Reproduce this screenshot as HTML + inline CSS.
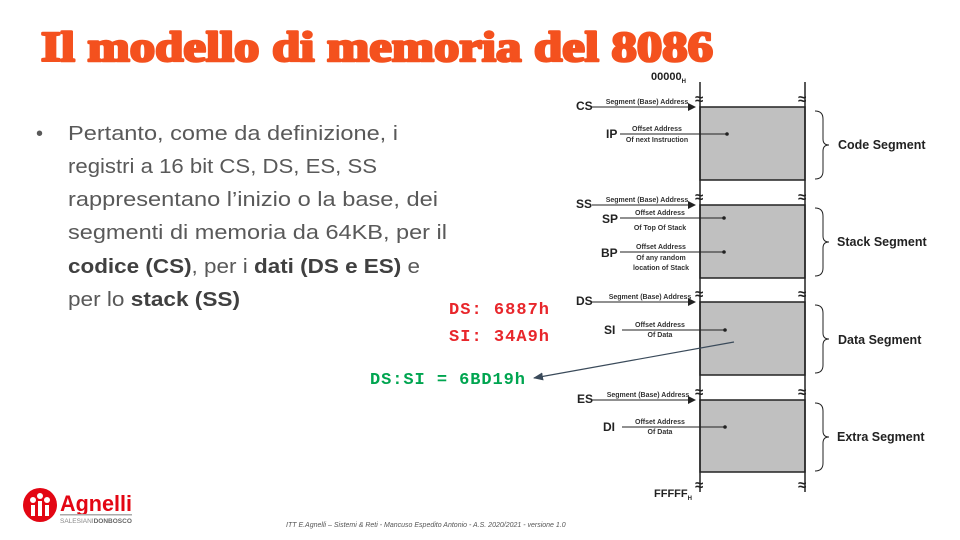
<!DOCTYPE html>
<html><head><meta charset="utf-8"><style>
body{margin:0;background:#fff}
svg{display:block}
.b{font-family:"Liberation Sans",sans-serif;font-weight:bold}
.s{font-family:"Liberation Sans",sans-serif;font-weight:bold;font-size:7px;fill:#333}
.t{font-family:"Liberation Sans",sans-serif;font-size:20px;fill:#595959}
.m{font-family:"Liberation Mono",monospace;font-weight:bold;font-size:17px}
</style></head><body>
<svg width="960" height="540" viewBox="0 0 960 540" xmlns="http://www.w3.org/2000/svg">
<defs><marker id="ah" markerWidth="8" markerHeight="8" refX="7" refY="4" orient="auto" markerUnits="userSpaceOnUse"><path d="M0,0L8,4L0,8z" fill="#222"/></marker>
<marker id="ah2" markerWidth="10" markerHeight="10" refX="9" refY="5" orient="auto" markerUnits="userSpaceOnUse"><path d="M0,1L10,5L0,9z" fill="#3a4a5a"/></marker></defs>
<text x="41" y="61" font-family="Liberation Serif,serif" font-weight="bold" font-size="42" fill="#f4511e" stroke="#f4511e" stroke-width="2.6" stroke-linejoin="round" textLength="672" lengthAdjust="spacingAndGlyphs">Il modello di memoria del 8086</text>

<text x="36" y="140" class="t">•</text>
<text x="68" y="140" class="t" textLength="330" lengthAdjust="spacingAndGlyphs">Pertanto, come da definizione, i</text>
<text x="68" y="173" class="t" textLength="309" lengthAdjust="spacingAndGlyphs">registri a 16 bit CS, DS, ES, SS</text>
<text x="68" y="206" class="t" textLength="370" lengthAdjust="spacingAndGlyphs">rappresentano l’inizio o la base, dei</text>
<text x="68" y="239" class="t" textLength="379" lengthAdjust="spacingAndGlyphs">segmenti di memoria da 64KB, per il</text>
<text x="68" y="273" class="t" textLength="352" lengthAdjust="spacingAndGlyphs"><tspan font-weight="bold" fill="#404040">codice (CS)</tspan>, per i <tspan font-weight="bold" fill="#404040">dati (DS e ES)</tspan> e</text>
<text x="68" y="306" class="t" textLength="172" lengthAdjust="spacingAndGlyphs">per lo <tspan font-weight="bold" fill="#404040">stack (SS)</tspan></text>

<text x="449" y="314" class="m" fill="#e8262b" textLength="100">DS: 6887h</text>
<text x="449" y="341" class="m" fill="#e8262b" textLength="100">SI: 34A9h</text>
<text x="370" y="384" class="m" fill="#00a550" textLength="155">DS:SI = 6BD19h</text>

<g fill="#c0c0c0" stroke="#222" stroke-width="1.5">
<rect x="700" y="107" width="105" height="73"/>
<rect x="700" y="205" width="105" height="73"/>
<rect x="700" y="302" width="105" height="73"/>
<rect x="700" y="400" width="105" height="72"/>
</g>
<g stroke="#222" stroke-width="1.5"><line x1="700" y1="82" x2="700" y2="492"/><line x1="805" y1="82" x2="805" y2="492"/></g>
<g class="b" font-size="15" fill="#222">
<text x="695" y="104">≈</text><text x="798" y="104">≈</text>
<text x="695" y="202">≈</text><text x="798" y="202">≈</text>
<text x="695" y="299">≈</text><text x="798" y="299">≈</text>
<text x="695" y="397">≈</text><text x="798" y="397">≈</text>
<text x="695" y="490">≈</text><text x="798" y="490">≈</text>
</g>
<text x="651" y="80" class="b" font-size="11" fill="#222">00000<tspan font-size="6" dy="3">H</tspan></text>
<text x="654" y="497" class="b" font-size="11" fill="#222">FFFFF<tspan font-size="6" dy="3">H</tspan></text>

<g stroke="#222" stroke-width="1" fill="none">
<line x1="592" y1="107" x2="695" y2="107" marker-end="url(#ah)"/>
<line x1="592" y1="205" x2="695" y2="205" marker-end="url(#ah)"/>
<line x1="592" y1="302" x2="695" y2="302" marker-end="url(#ah)"/>
<line x1="592" y1="400" x2="695" y2="400" marker-end="url(#ah)"/>
<line x1="620" y1="134" x2="727" y2="134"/>
<line x1="620" y1="218" x2="724" y2="218"/>
<line x1="620" y1="252" x2="724" y2="252"/>
<line x1="622" y1="330" x2="725" y2="330"/>
<line x1="622" y1="427" x2="725" y2="427"/>
<path d="M815,111 q8,0 8,8 v20 q0,6 6,6 q-6,0 -6,6 v20 q0,8 -8,8"/>
<path d="M815,208 q8,0 8,8 v20 q0,6 6,6 q-6,0 -6,6 v20 q0,8 -8,8"/>
<path d="M815,305 q8,0 8,8 v20 q0,6 6,6 q-6,0 -6,6 v20 q0,8 -8,8"/>
<path d="M815,403 q8,0 8,8 v20 q0,6 6,6 q-6,0 -6,6 v20 q0,8 -8,8"/>
</g>
<g fill="#222"><circle cx="727" cy="134" r="1.8"/><circle cx="724" cy="218" r="1.8"/><circle cx="724" cy="252" r="1.8"/><circle cx="725" cy="330" r="1.8"/><circle cx="725" cy="427" r="1.8"/></g>
<line x1="734" y1="342" x2="534" y2="378" stroke="#3a4a5a" stroke-width="1.2" marker-end="url(#ah2)"/>

<g class="b" font-size="12" fill="#222">
<text x="576" y="110">CS</text><text x="606" y="138">IP</text>
<text x="576" y="208">SS</text><text x="602" y="223">SP</text><text x="601" y="257">BP</text>
<text x="576" y="305">DS</text><text x="604" y="334">SI</text>
<text x="577" y="403">ES</text><text x="603" y="431">DI</text>
</g>
<g class="b" font-size="12.5" fill="#222">
<text x="838" y="149">Code Segment</text>
<text x="837" y="246">Stack Segment</text>
<text x="838" y="344">Data Segment</text>
<text x="837" y="441">Extra Segment</text>
</g>
<g class="s" text-anchor="middle">
<text x="647" y="104">Segment (Base) Address</text>
<text x="647" y="202">Segment (Base) Address</text>
<text x="650" y="299">Segment (Base) Address</text>
<text x="648" y="397">Segment (Base) Address</text>
<text x="657" y="131">Offset Address</text><text x="657" y="142">Of next Instruction</text>
<text x="660" y="215">Offset Address</text><text x="660" y="230">Of Top Of Stack</text>
<text x="661" y="249">Offset Address</text><text x="661" y="260">Of any random</text><text x="661" y="270">location of Stack</text>
<text x="660" y="327">Offset Address</text><text x="660" y="337">Of Data</text>
<text x="660" y="424">Offset Address</text><text x="660" y="434">Of Data</text>
</g>

<circle cx="40" cy="505" r="17" fill="#e30613"/>
<g fill="#fff"><circle cx="33" cy="500" r="3"/><circle cx="47" cy="500" r="3"/><circle cx="40" cy="496" r="3"/><rect x="31" y="505" width="4" height="11"/><rect x="45" y="505" width="4" height="11"/><rect x="38" y="501" width="4" height="15"/></g>
<text x="60" y="511" class="b" font-size="22" fill="#e30613" textLength="72" lengthAdjust="spacingAndGlyphs">Agnelli</text>
<rect x="60" y="514" width="72" height="1.5" fill="#aaa"/>
<text x="60" y="523" font-family="Liberation Sans,sans-serif" font-size="6.5" fill="#888">SALESIANI<tspan font-weight="bold" fill="#666">DONBOSCO</tspan></text>
<text x="286" y="527" font-family="Liberation Sans,sans-serif" font-style="italic" font-size="7" fill="#555">ITT E.Agnelli – Sistemi &amp; Reti - Mancuso Espedito Antonio - A.S. 2020/2021 - versione 1.0</text>
</svg>
</body></html>
